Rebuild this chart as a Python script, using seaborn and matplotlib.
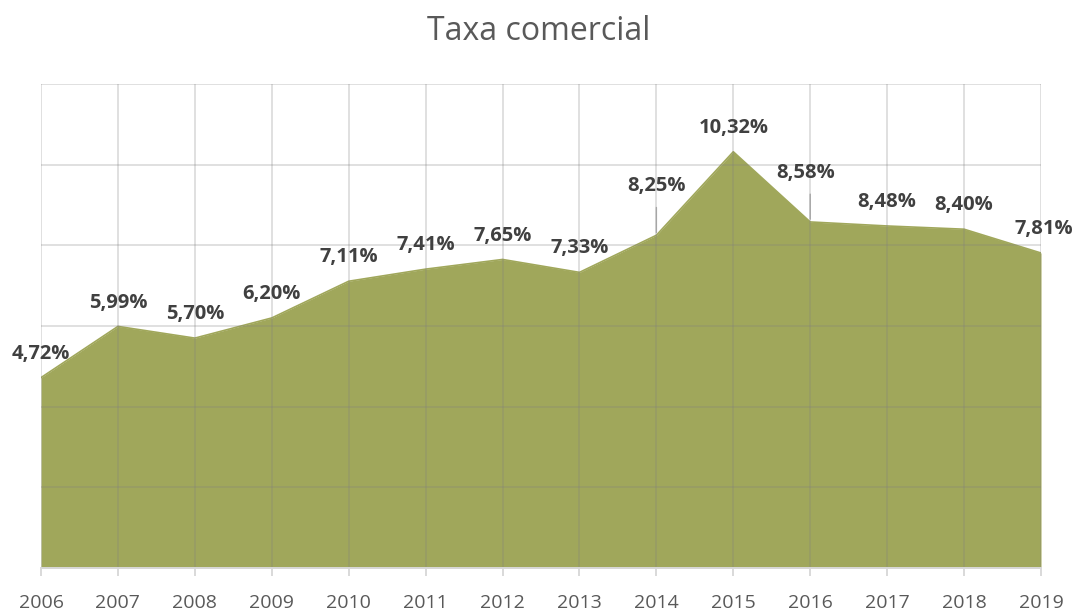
import matplotlib
matplotlib.use('Agg')
import matplotlib.pyplot as plt
import seaborn as sns

# données
anos = [2006, 2007, 2008, 2009, 2010, 2011, 2012, 2013, 2014, 2015, 2016, 2017, 2018, 2019]
taxa = [4.72, 5.99, 5.70, 6.20, 7.11, 7.41, 7.65, 7.33, 8.25, 10.32, 8.58, 8.48, 8.40, 7.81]
rotulos = ['4,72%', '5,99%', '5,70%', '6,20%', '7,11%', '7,41%', '7,65%', '7,33%',
           '8,25%', '10,32%', '8,58%', '8,48%', '8,40%', '7,81%']

sns.set_theme(style="whitegrid")
plt.rcParams['font.family'] = ['Open Sans', 'DejaVu Sans']

fig = plt.figure(figsize=(10.77, 6.11), dpi=100)
ax = fig.add_axes([41 / 1077, 43 / 611, 1000 / 1077, 484 / 611])

cor = '#a0a75b'
ax.fill_between(anos, taxa, 0, color=cor, linewidth=0, zorder=1)
sns.lineplot(x=anos, y=taxa, ax=ax, color=cor, linewidth=1.2, zorder=1.1)

ax.set_xlim(2006, 2019)
ax.set_ylim(0, 12)
ax.set_xticks(anos)
ax.set_yticks(range(0, 13, 2))
ax.set_yticklabels([])
# grille semi-transparente, visible sur la zone
ax.set_axisbelow(False)
ax.grid(True, color='#808080', alpha=0.25, linewidth=1.4, zorder=2)
for s in ['top', 'left', 'right']:
    ax.spines[s].set_visible(False)
ax.spines['bottom'].set_color('#d9d9d9')
ax.spines['bottom'].set_linewidth(1.4)
ax.spines['bottom'].set_zorder(3)
ax.tick_params(axis='x', bottom=True, length=6, width=1.4, color='#d9d9d9',
               labelsize=14, labelcolor='#595959', pad=13)
ax.tick_params(axis='y', left=False, length=0)

# décalages des étiquettes (points)
decal = {8: (0, 28), 10: (-3, 28), 13: (2, 10), 0: (0, 10)}
for i, (x, y, t) in enumerate(zip(anos, taxa, rotulos)):
    dx, dy = decal.get(i, (0, 10))
    ax.annotate(t, (x, y), xytext=(dx, dy), textcoords='offset points',
                ha='center', va='bottom', fontsize=14.5, fontweight='bold',
                color='#404040', zorder=5, annotation_clip=False)
    if i in (8, 10):
        ax.annotate('', (x, y), xytext=(0, 22), textcoords='offset points',
                    arrowprops=dict(arrowstyle='-', color='#a6a6a6', lw=1), zorder=5)

fig.suptitle('Taxa comercial', x=0.5, y=0.975, va='top', fontsize=23, color='#595959')

fig.savefig('out.png', dpi=100)
